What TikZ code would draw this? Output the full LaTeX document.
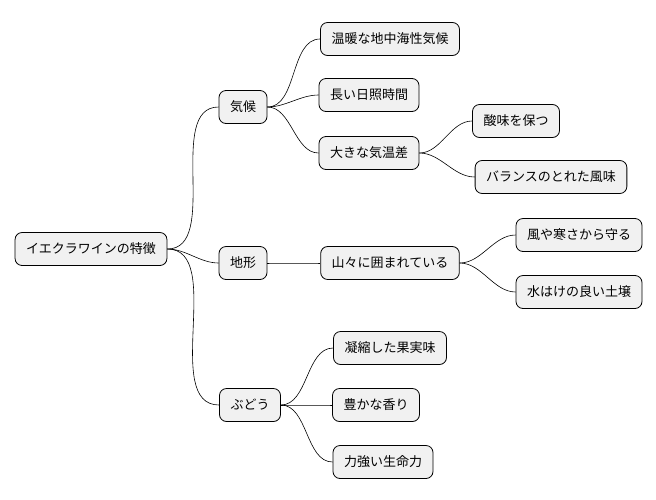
\documentclass[tikz,border=0pt]{standalone}
\usepackage{fontspec}
\setmainfont{Noto Sans CJK JP}
\usetikzlibrary{positioning}
\begin{document}
\begin{tikzpicture}[x=1pt,y=-1pt,
		topic/.style={draw,rectangle,rounded corners=7pt,fill={rgb,255:red,241;green,241;blue,241},line width=0.8pt,minimum height=33pt,inner xsep=11pt,font=\fontsize{13pt}{15pt}\selectfont},
		link/.style={line width=0.6pt,out=0,in=180,looseness=0.9}
	]
		\useasboundingbox (0,0) rectangle (656,499);
		\node (root) [topic] at (91,249) {イエクラワインの特徴};
		\node (clim) [topic] at (243,107) {気候};
		\node (terr) [topic] at (243,263) {地形};
		\node (grap) [topic] at (250,405) {ぶどう};
		\node (medi) [topic] at (390,39) {温暖な地中海性気候};
		\node (sunh) [topic] at (369,95) {長い日照時間};
		\node (diff) [topic] at (369,153) {大きな気温差};
		\node (acid) [topic] at (516,121) {酸味を保つ};
		\node (bala) [topic] at (551,177) {バランスのとれた風味};
		\node (moun) [topic] at (390,263) {山々に囲まれている};
		\node (prot) [topic] at (579,235) {風や寒さから守る};
		\node (soil) [topic] at (579,292) {水はけの良い土壌};
		\node (conc) [topic] at (390,348) {凝縮した果実味};
		\node (arom) [topic] at (376,405) {豊かな香り};
		\node (vita) [topic] at (383,462) {力強い生命力};

		\draw [link] (root.east) to (clim.west);
		\draw [link] (root.east) to (terr.west);
		\draw [link] (root.east) to (grap.west);
		\draw [link] (clim.east) to (medi.west);
		\draw [link] (clim.east) to (sunh.west);
		\draw [link] (clim.east) to (diff.west);
		\draw [link] (diff.east) to (acid.west);
		\draw [link] (diff.east) to (bala.west);
		\draw [link] (terr.east) to (moun.west);
		\draw [link] (moun.east) to (prot.west);
		\draw [link] (moun.east) to (soil.west);
		\draw [link] (grap.east) to (conc.west);
		\draw [link] (grap.east) to (arom.west);
		\draw [link] (grap.east) to (vita.west);
	\end{tikzpicture}
\end{document}
